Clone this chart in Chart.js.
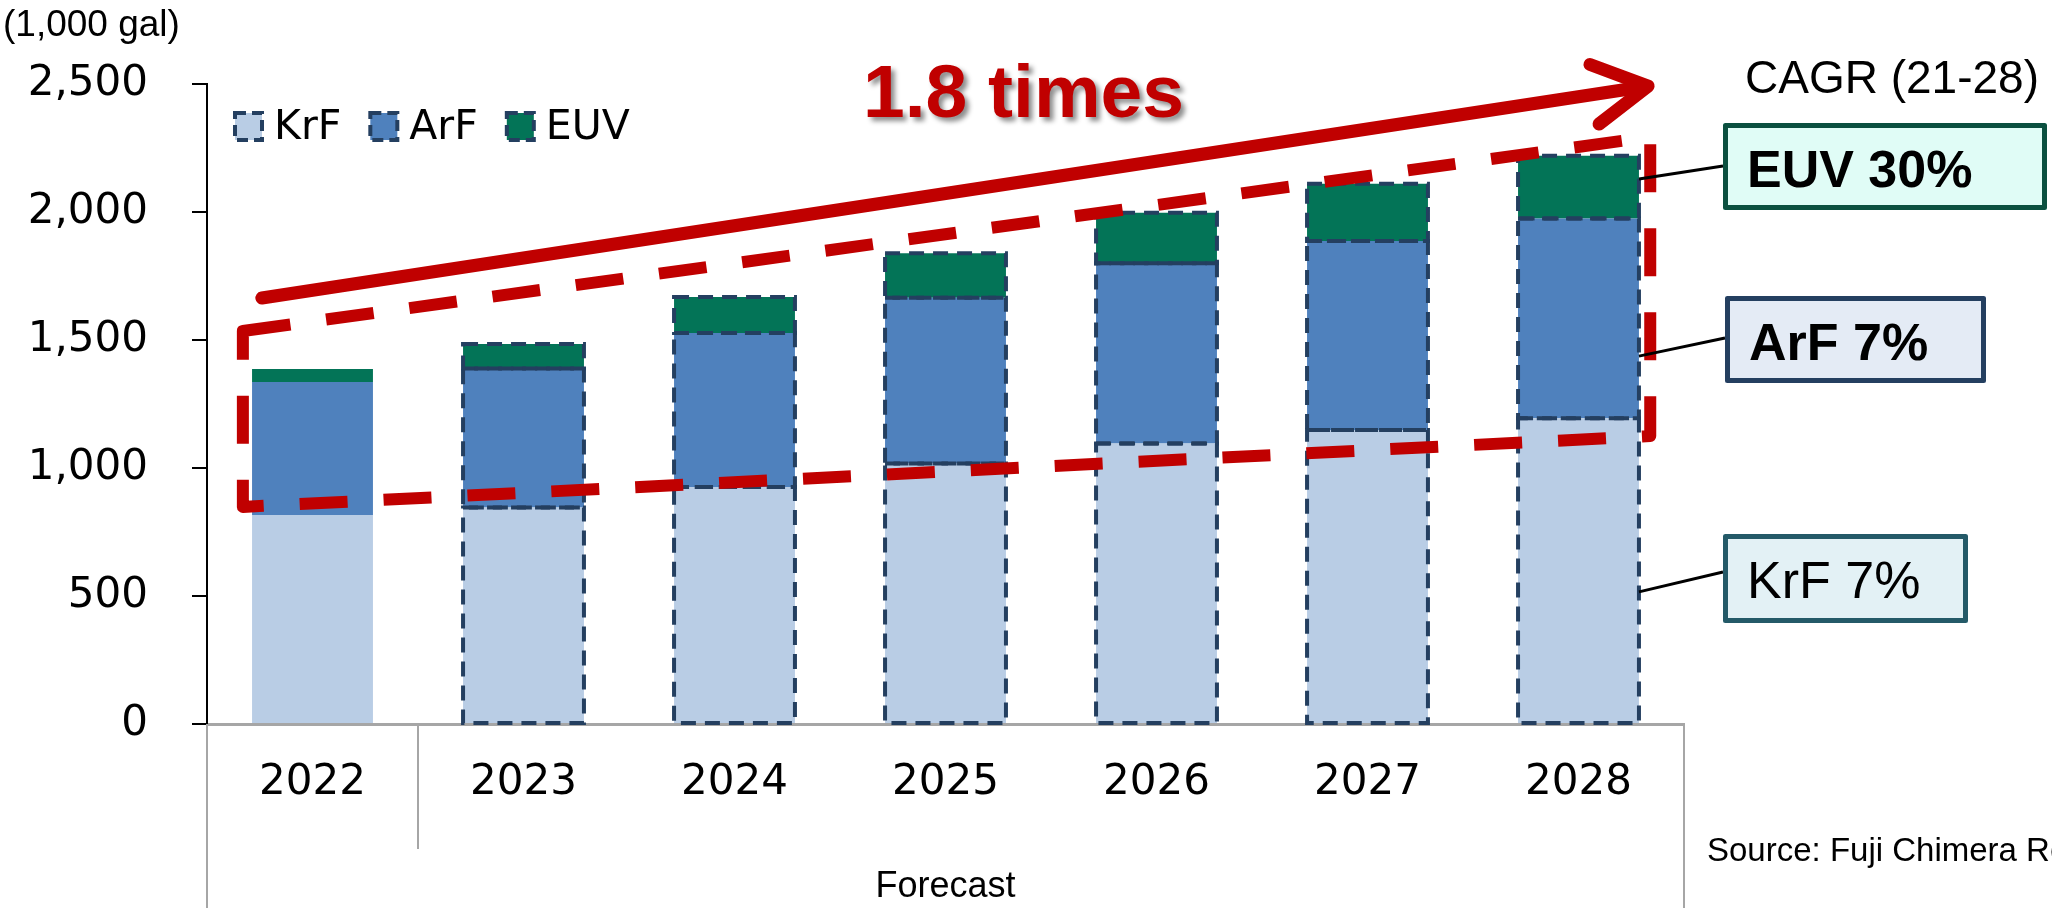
<!DOCTYPE html>
<html>
<head>
<meta charset="utf-8">
<script src="https://cdn.jsdelivr.net/npm/chart.js@4.4.1/dist/chart.umd.min.js"></script>
<style>
  html, body { margin: 0; padding: 0; background: #fff; }
  #wrap { width: 2052px; height: 908px; }
</style>
</head>
<body>
<div id="wrap"><canvas id="chart" width="2052" height="908"></canvas></div>
<script>
// values (1,000 gal)
const years = ['2022', '2023', '2024', '2025', '2026', '2027', '2028'];
const krfValues = [816, 846, 926, 1018, 1096, 1148, 1194];
const arfValues = [520, 543, 601, 647, 704, 739, 781];
const euvValues = [51, 95, 141, 174, 197, 223, 245];
const yMax = 2500;
const yStep = 500;
const forecastStart = 1; // first forecast index (dashed outline)

const cagrTitle = 'CAGR (21-28)';
const cagrLabels = ['EUV 30%', 'ArF 7%', 'KrF 7%'];
const cagrAnchors = [2129, 1437, 516]; // where the leader lines meet the 2028 bar

// annotation geometry in (category index, value) space
const trapezoid = [[-0.33, 1535], [6.34, 2293], [6.34, 1125], [-0.33, 848]];
const arrowLine = [[-0.24, 1664], [6.33, 2492]];

const RED = '#C00000';
const OUTLINE = '#243F60';

function px(chart, pt) {
    return [chart.scales.x.getPixelForValue(pt[0]), chart.scales.y.getPixelForValue(pt[1])];
}

const dashedBars = {
    id: 'dashedBars',
    afterDatasetsDraw(chart) {
        const ctx = chart.ctx;
        ctx.save();
        ctx.strokeStyle = OUTLINE;
        ctx.lineWidth = 4;
        ctx.setLineDash([15, 9]);
        chart.data.datasets.forEach((ds, i) => {
            chart.getDatasetMeta(i).data.forEach((bar, j) => {
                if (j < forecastStart) return;
                const p = bar.getProps(['x', 'y', 'base', 'width'], true);
                ctx.strokeRect(p.x - p.width / 2, p.y, p.width, p.base - p.y);
            });
        });
        ctx.restore();
    }
};

const annotations = {
    id: 'annotations',
    afterDraw(chart) {
        const ctx = chart.ctx;
        const area = chart.chartArea;
        const xs = chart.scales.x;

        // Category axis extras: group separators and "Forecast"
        ctx.save();
        ctx.strokeStyle = '#A6A6A6';
        ctx.lineWidth = 2;
        const sep = (xs.getPixelForValue(0) + xs.getPixelForValue(1)) / 2;
        [[area.left, 908], [sep, 849], [area.right, 908]].forEach(([x, y2]) => {
            ctx.beginPath();
            ctx.moveTo(x, area.bottom);
            ctx.lineTo(x, y2);
            ctx.stroke();
        });
        ctx.fillStyle = '#000';
        ctx.font = '36px "Liberation Sans", Arial, sans-serif';
        ctx.textAlign = 'center';
        ctx.textBaseline = 'alphabetic';
        ctx.fillText('Forecast', (area.left + area.right) / 2, 897);
        ctx.restore();

        // Unit label
        ctx.save();
        ctx.fillStyle = '#000';
        ctx.font = '37px "Liberation Sans", Arial, sans-serif';
        ctx.fillText('(1,000 gal)', 3, 36);
        ctx.restore();

        // Legend
        ctx.save();
        let lx = area.left + 28;
        const ly = 113;
        ctx.font = '41px "DejaVu Sans", sans-serif';
        ctx.textBaseline = 'middle';
        chart.data.datasets.forEach(ds => {
            ctx.fillStyle = ds.backgroundColor;
            ctx.fillRect(lx, ly, 27, 27);
            ctx.strokeStyle = OUTLINE;
            ctx.lineWidth = 4;
            ctx.setLineDash([11, 6]);
            ctx.strokeRect(lx, ly, 27, 27);
            ctx.setLineDash([]);
            ctx.fillStyle = '#000';
            ctx.fillText(ds.label, lx + 39, ly + 15);
            lx += 39 + ctx.measureText(ds.label).width + 29;
        });
        ctx.restore();

        // Red dashed trapezoid
        ctx.save();
        ctx.strokeStyle = RED;
        ctx.lineWidth = 12;
        ctx.lineJoin = 'round';
        ctx.setLineDash([48, 36]);
        ctx.beginPath();
        trapezoid.forEach((pt, i) => {
            const [x, y] = px(chart, pt);
            if (i === 0) ctx.moveTo(x, y); else ctx.lineTo(x, y);
        });
        ctx.closePath();
        ctx.stroke();
        ctx.restore();

        // Growth arrow
        ctx.save();
        const [ax, ay] = px(chart, arrowLine[0]);
        const [bx, by] = px(chart, arrowLine[1]);
        const ang = Math.atan2(by - ay, bx - ax);
        ctx.strokeStyle = RED;
        ctx.lineWidth = 13;
        ctx.lineCap = 'round';
        ctx.lineJoin = 'round';
        ctx.beginPath();
        ctx.moveTo(ax, ay);
        ctx.lineTo(bx - 6 * Math.cos(ang), by - 6 * Math.sin(ang));
        ctx.stroke();
        const head = 62, spread = Math.PI / 6.2;
        ctx.beginPath();
        ctx.moveTo(bx - head * Math.cos(ang - spread), by - head * Math.sin(ang - spread));
        ctx.lineTo(bx, by);
        ctx.lineTo(bx - head * Math.cos(ang + spread), by - head * Math.sin(ang + spread));
        ctx.stroke();
        ctx.restore();

        // "1.8 times"
        ctx.save();
        ctx.font = 'bold 75px "Liberation Sans", Arial, sans-serif';
        ctx.fillStyle = RED;
        ctx.shadowColor = 'rgba(0,0,0,0.45)';
        ctx.shadowOffsetX = 4;
        ctx.shadowOffsetY = 4;
        ctx.shadowBlur = 5;
        ctx.fillText('1.8 times', 863, 117);
        ctx.restore();

        // CAGR title and boxes
        ctx.save();
        ctx.fillStyle = '#000';
        ctx.font = '46px "Liberation Sans", Arial, sans-serif';
        ctx.fillText(cagrTitle, 1745, 93);

        const boxes = [
            { x: 1723, y: 123, w: 324, h: 87, fill: '#E0FCF6', stroke: '#0B5040', bold: true, ly: 166 },
            { x: 1725, y: 296, w: 261, h: 87, fill: '#E4EBF5', stroke: '#243F60', bold: true, ly: 338 },
            { x: 1723, y: 534, w: 245, h: 89, fill: '#E3F1F5', stroke: '#245A68', bold: false, ly: 572 }
        ];
        const lastBar = chart.getDatasetMeta(0).data[years.length - 1];
        const barRight = lastBar.x + lastBar.width / 2;
        boxes.forEach((b, i) => {
            ctx.strokeStyle = '#000';
            ctx.lineWidth = 3;
            ctx.beginPath();
            ctx.moveTo(b.x, b.ly);
            ctx.lineTo(barRight, chart.scales.y.getPixelForValue(cagrAnchors[i]));
            ctx.stroke();

            ctx.fillStyle = b.fill;
            ctx.fillRect(b.x, b.y, b.w, b.h);
            ctx.strokeStyle = b.stroke;
            ctx.lineWidth = 5;
            ctx.lineJoin = 'round';
            ctx.strokeRect(b.x + 2.5, b.y + 2.5, b.w - 5, b.h - 5);
            ctx.fillStyle = '#000';
            ctx.font = (b.bold ? 'bold ' : '') + '52px "Liberation Sans", Arial, sans-serif';
            ctx.fillText(cagrLabels[i], b.x + 24, b.y + 64);
        });

        ctx.font = '33px "Liberation Sans", Arial, sans-serif';
        ctx.fillText('Source: Fuji Chimera Research Institute', 1707, 861);
        ctx.restore();
    }
};

new Chart(document.getElementById('chart'), {
    type: 'bar',
    data: {
        labels: years,
        datasets: [
            { label: 'KrF', data: krfValues, backgroundColor: '#B9CDE5' },
            { label: 'ArF', data: arfValues, backgroundColor: '#4F81BD' },
            { label: 'EUV', data: euvValues, backgroundColor: '#037457' }
        ]
    },
    options: {
        responsive: false,
        devicePixelRatio: 1,
        animation: false,
        layout: { padding: { top: 84, right: 368, left: 0, bottom: 0 } },
        datasets: {
            bar: { categoryPercentage: 1, barPercentage: 0.573, borderWidth: 0 }
        },
        plugins: {
            legend: { display: false },
            tooltip: { enabled: false }
        },
        scales: {
            x: {
                stacked: true,
                grid: { display: false, drawTicks: false },
                border: { display: true, color: '#A6A6A6', width: 3 },
                ticks: {
                    color: '#000',
                    padding: 34,
                    font: { family: '"DejaVu Sans", sans-serif', size: 42 }
                },
                afterFit: (scale) => { scale.height = 184; }
            },
            y: {
                stacked: true,
                min: 0,
                max: yMax,
                grid: { drawOnChartArea: false, drawTicks: true, tickLength: 15, color: '#000', lineWidth: 2 },
                border: { display: true, color: '#000', width: 2 },
                ticks: {
                    stepSize: yStep,
                    color: '#000',
                    padding: 44,
                    font: { family: '"DejaVu Sans", sans-serif', size: 42 }
                },
                afterFit: (scale) => { scale.width = 207; }
            }
        }
    },
    plugins: [dashedBars, annotations]
});
</script>
</body>
</html>
